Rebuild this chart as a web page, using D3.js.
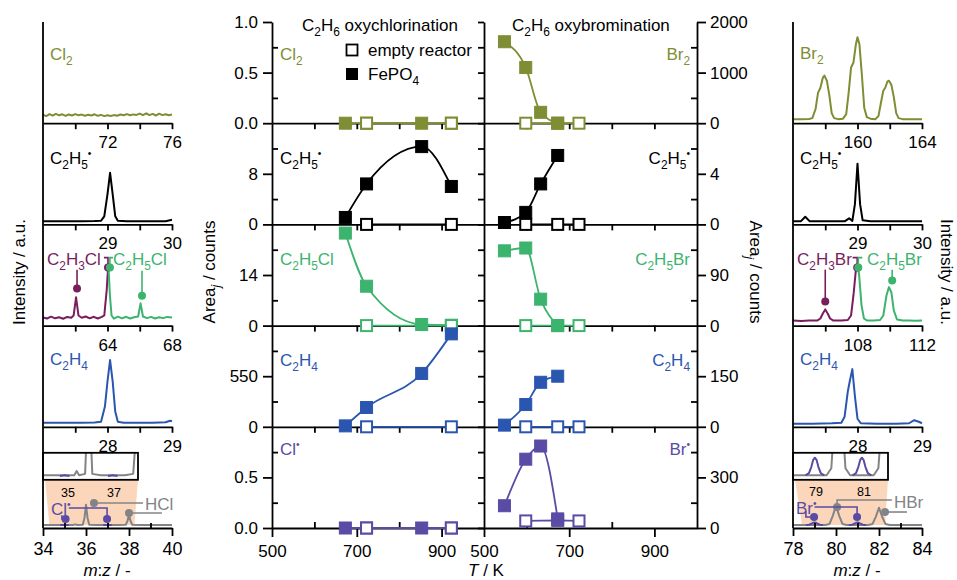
<!DOCTYPE html>
<html>
<head>
<meta charset="utf-8">
<script src="https://cdnjs.cloudflare.com/ajax/libs/d3/7.8.5/d3.min.js"></script>
<style>
  body { margin: 0; background: #fff; }
  svg { display: block; }
</style>
</head>
<body>
<svg id="fig" width="957" height="580"></svg>
<script>
// --- middle: peak areas vs temperature ---
const tClFe = [673, 723, 853, 923];
const tClEmpty = [723, 923];
const tBrFe = [548, 598, 633, 673];
const tBrEmpty = [598, 673, 723];

const clCl2Fe = [0, 0, 0, 0],            clCl2Empty = [0, 0];
const clC2H5Fe = [1.1, 6.4, 12.3, 6.0],  clC2H5Empty = [0, 0];
const clC2H5ClFe = [25.6, 10.9, 0.3, 0.1], clC2H5ClEmpty = [0, 0];
const clC2H4Fe = [10, 210, 580, 1010],   clC2H4Empty = [0, 0];
const clClFe = [0, 0, 0, 0],             clClEmpty = [0, 0];

const brBr2Fe = [1610, 1100, 215, 0],    brBr2Empty = [0, 0, 0];
const brC2H5Fe = [0.15, 0.95, 3.2, 5.45], brC2H5Empty = [0, 0, 0];
const brC2H5BrFe = [133, 138, 47, 0],    brC2H5BrEmpty = [0, 0, 0];
const brC2H4Fe = [5, 66, 132, 150],      brC2H4Empty = [0, 0, 0];
const brBrFe = [132, 408, 486, 54],      brBrEmpty = [42, 45, 42];

const clMax = [1, 16, 28, 1100, 1];
const clMajor = [[0, 0.5, 1], [0, 8], [0, 14], [0, 550], [0, 0.5]];
const clMinor = [[0.25, 0.75], [4, 12], [7, 21], [275, 825], [0.25, 0.75]];
const brMax = [2000, 8, 180, 300, 600];
const brMajor = [[0, 1000, 2000], [0, 4], [0, 90], [0, 150], [0, 300]];
const brMinor = [[500, 1500], [2, 6], [45, 135], [75, 225], [150, 450]];
const tMajor = [500, 700, 900];
const tMinor = [600, 800];
const tInner = [600, 700, 800, 900];

// --- left spectra (m:z, relative intensity) ---
const specCl2 = [[68,.085],[68.2,.07],[68.4,.09],[68.6,.075],[68.8,.092],[69,.078],[69.2,.088],[69.4,.072],[69.6,.086],[69.8,.076],[70,.09],[70.2,.079],[70.4,.085],[70.6,.074],[70.8,.083],[71,.076],[71.2,.088],[71.4,.073],[71.6,.082],[71.8,.07],[72,.078],[72.2,.072],[72.4,.08],[72.6,.074],[72.8,.086],[73,.079],[73.2,.09],[73.4,.078],[73.6,.087],[73.8,.082],[74,.095],[74.2,.079],[74.4,.098],[74.6,.08],[74.8,.092],[75,.076],[75.2,.094],[75.4,.08],[75.6,.088],[75.8,.078],[76,.086]];
const specC2H5L = [[28,.03],[28.2,.03],[28.4,.032],[28.6,.03],[28.8,.033],[28.9,.036],[28.95,.08],[29,.3],[29.04,.51],[29.08,.3],[29.12,.08],[29.16,.035],[29.3,.03],[29.5,.03],[29.7,.031],[29.9,.032],[30,.045]];
const specC2H3Cl = [[60,.08],[60.25,.07],[60.5,.088],[60.75,.072],[61,.082],[61.25,.068],[61.5,.086],[61.75,.078],[61.9,.1],[62.05,.28],[62.2,.1],[62.4,.078],[62.65,.09],[62.9,.072],[63.15,.087],[63.4,.07],[63.65,.086],[63.8,.1],[63.95,.35],[64.05,.61]];
const specC2H5Cl = [[64.05,.61],[64.15,.3],[64.25,.1],[64.4,.068],[64.65,.088],[64.9,.072],[65.15,.087],[65.4,.07],[65.65,.082],[65.9,.09],[66.05,.22],[66.2,.09],[66.45,.074],[66.7,.086],[66.95,.07],[67.2,.082],[67.45,.074],[67.7,.086],[68,.08]];
const specC2H4L = [[27,.04],[27.3,.04],[27.6,.041],[27.8,.042],[27.9,.05],[27.96,.2],[28,.45],[28.04,.66],[28.08,.45],[28.12,.15],[28.16,.05],[28.25,.04],[28.5,.04],[28.7,.041],[28.9,.045],[28.97,.06],[29,.055]];
const specHCl = [[34,.03],[34.5,.03],[35,.03],[35.4,.03],[35.5,.036],[35.6,.03],[35.85,.032],[35.93,.1],[36,.23],[36.07,.1],[36.15,.032],[36.5,.03],[37,.03],[37.5,.03],[37.85,.032],[37.93,.07],[38,.13],[38.07,.07],[38.15,.032],[38.5,.03],[39,.03],[39.5,.03],[40,.03]];
const specClRad = [[[34.8,.029],[35,.03],[35.2,.029]], [[36.8,.029],[37,.03],[37.2,.029]]];

// --- right spectra ---
const specBr2 = [[156,.04],[156.5,.04],[157,.042],[157.2,.05],[157.4,.14],[157.55,.3],[157.7,.35],[157.85,.45],[157.95,.47],[158.1,.42],[158.25,.28],[158.4,.1],[158.55,.05],[158.8,.04],[159.1,.045],[159.3,.09],[159.45,.3],[159.6,.55],[159.75,.6],[159.9,.78],[160,.85],[160.12,.78],[160.27,.48],[160.42,.15],[160.58,.06],[160.8,.045],[161.1,.04],[161.3,.07],[161.45,.2],[161.6,.32],[161.72,.35],[161.85,.41],[161.95,.42],[162.1,.38],[162.25,.26],[162.4,.1],[162.55,.05],[162.8,.04],[163.2,.04],[163.6,.038],[164,.04]];
const specC2H5R = [[28,.03],[28.12,.03],[28.19,.075],[28.26,.03],[28.5,.03],[28.8,.03],[28.87,.06],[28.92,.035],[28.96,.2],[29,.6],[29.04,.2],[29.08,.04],[29.2,.03],[29.5,.03],[30,.03]];
const specC2H3Br = [[104,.05],[104.5,.045],[105,.05],[105.5,.05],[105.7,.07],[105.85,.12],[106,.16],[106.15,.12],[106.3,.07],[106.5,.05],[107,.05],[107.4,.055],[107.6,.1],[107.75,.3],[107.9,.55],[108,.61]];
const specC2H5Br = [[108,.61],[108.1,.5],[108.25,.2],[108.4,.07],[108.6,.05],[109,.05],[109.4,.055],[109.6,.1],[109.8,.3],[109.95,.38],[110.1,.33],[110.25,.15],[110.45,.06],[110.8,.05],[111.2,.05],[111.6,.048],[112,.05]];
const specC2H4R = [[27,.03],[27.3,.03],[27.6,.035],[27.75,.04],[27.8,.1],[27.85,.35],[27.88,.45],[27.92,.57],[27.96,.3],[28,.08],[28.05,.035],[28.3,.03],[28.6,.03],[28.8,.035],[28.88,.065],[28.95,.05],[29,.035]];
const specHBr = [[78,.03],[78.5,.03],[79,.03],[79.5,.03],[79.7,.04],[79.85,.12],[80,.22],[80.15,.12],[80.3,.04],[80.5,.03],[81,.03],[81.5,.03],[81.7,.04],[81.85,.11],[82,.2],[82.15,.11],[82.3,.04],[82.5,.03],[83,.03],[83.5,.03],[84,.03]];
const specBrRad = [[[78.6,.03],[78.75,.033],[78.85,.042],[78.93,.052],[79,.055],[79.07,.052],[79.15,.042],[79.25,.033],[79.4,.03]],
                   [[80.6,.03],[80.75,.033],[80.85,.042],[80.93,.052],[81,.055],[81.07,.052],[81.15,.042],[81.25,.033],[81.4,.03]]];

// spectra axes
const specTicksL = [[70,72,74,76],[28.5,29,29.5,30],[62,64,66,68],[27.5,28,28.5,29],[34,35,36,37,38,39,40]];
const specLabL = [[72,76],[29,30],[64,68],[28,29],[34,36,38,40]];
const specDomL = [[68,76],[28,30],[60,68],[27,29],[34,40]];
const specTicksR = [[158,160,162,164],[28.5,29,29.5,30],[106,108,110,112],[27.5,28,28.5,29],[78,79,80,81,82,83,84]];
const specLabR = [[160,164],[29,30],[108,112],[28,29],[78,80,82,84]];
const specDomR = [[156,164],[28,30],[104,112],[27,29],[78,84]];
const insetDomL = [34.1, 38.05], zoomDomL = [34.3, 38.25];
const insetDomR = [78.07, 82.11], zoomDomR = [78.42, 82.28];
const insetInt = [0.025, 0.062];

// annotation pins (m:z, intensity); dot sits on the first point unless end is set
const pinsL3 = [
  {c: "maroon", p: [[62.11,.366],[62.11,.553]]},
  {c: "maroon", p: [[64.03,.573],[64.03,.672],[63.78,.672]]},
  {c: "green",  p: [[64.15,.573],[64.15,.672],[64.34,.672]]},
  {c: "green",  p: [[66.14,.296],[66.14,.543]]}];
const pinsL5 = [
  {c: "grey",   p: [[36.37,.247],[38.65,.247]]},
  {c: "grey",   p: [[38.0,.148],[39.53,.148]]},
  {c: "purple", p: [[34.88,.125],[34.88,.09],[35.05,.09]], end: true},
  {c: "purple", p: [[35.2,.198],[36.98,.198],[36.98,.09]], end: true}];
const pinsR3 = [
  {c: "maroon", p: [[106.0,.237],[106.0,.553]]},
  {c: "maroon", p: [[107.98,.573],[107.98,.672],[107.7,.672]]},
  {c: "green",  p: [[108.05,.573],[108.05,.672],[108.3,.672]]},
  {c: "green",  p: [[110.15,.445],[110.15,.553]]}];
const pinsR5 = [
  {c: "grey",   p: [[80.05,.207],[80.05,.277],[82.6,.277]]},
  {c: "grey",   p: [[82.28,.158],[83.3,.158]]},
  {c: "purple", p: [[78.6,.165],[78.6,.109],[78.98,.109]], end: true},
  {c: "purple", p: [[79.0,.207],[80.98,.207],[80.98,.109]], end: true}];

const COL = {olive: "#7f8d34", black: "#000", green: "#3cb46e", blue: "#2a56b0",
             purple: "#5a4ba5", maroon: "#781e5e", grey: "#848486", peach: "#fbd6ba"};
const FONT = '"Liberation Sans", Arial, sans-serif';

const svg = d3.select("#fig").attr("font-family", FONT);
const rowY = d3.scaleLinear().domain([0, 5]).range([22, 528]);
const AX = 1.8;

// text with _{sub} ^{sup} ~{italic} `{italic sub}
function rich(parent, str, x, y, size, color, anchor, rot) {
    const t = parent.append("text").attr("font-size", size).attr("fill", color || "#000")
        .attr("text-anchor", anchor || "start");
    if (rot) t.attr("transform", `translate(${x},${y}) rotate(${rot})`);
    else t.attr("x", x).attr("y", y);
    let cur = 0;
    for (const m of str.matchAll(/([_^~`])\{([^}]*)\}|([^_^~`]+)/g)) {
        let want = 0, fs = size, it = false, txt = m[3];
        if (m[3] === undefined) {
            txt = m[2];
            if (m[1] === "_" || m[1] === "`") { want = size * 0.3; fs = size * 0.7; }
            if (m[1] === "^") { want = -size * 0.4; fs = size * 0.6; }
            if (m[1] === "~" || m[1] === "`") it = true;
        }
        const sp = t.append("tspan").attr("dy", want - cur).attr("font-size", fs).text(txt);
        if (it) sp.attr("font-style", "italic");
        cur = want;
    }
    return t;
}

function styleAxis(g, size) {
    g.attr("font-family", FONT).attr("font-size", size || 17).attr("stroke-width", AX);
    g.selectAll("text").attr("fill", "#000");
}

// --- 1. MIDDLE: AREA vs T ---
const xL = d3.scaleLinear().domain([500, 1000]).range([272, 484]);
const xR = d3.scaleLinear().domain([500, 1000]).range([484, 697]);

const clRows = [
    {name: "Cl_{2}", c: "olive", fe: clCl2Fe, em: clCl2Empty},
    {name: "C_{2}H_{5}^{•}", c: "black", fe: clC2H5Fe, em: clC2H5Empty},
    {name: "C_{2}H_{5}Cl", c: "green", fe: clC2H5ClFe, em: clC2H5ClEmpty},
    {name: "C_{2}H_{4}", c: "blue", fe: clC2H4Fe, em: clC2H4Empty},
    {name: "Cl^{•}", c: "purple", fe: clClFe, em: clClEmpty}];
const brRows = [
    {name: "Br_{2}", c: "olive", fe: brBr2Fe, em: brBr2Empty},
    {name: "C_{2}H_{5}^{•}", c: "black", fe: brC2H5Fe, em: brC2H5Empty},
    {name: "C_{2}H_{5}Br", c: "green", fe: brC2H5BrFe, em: brC2H5BrEmpty},
    {name: "C_{2}H_{4}", c: "blue", fe: brC2H4Fe, em: brC2H4Empty},
    {name: "Br^{•}", c: "purple", fe: brBrFe, em: brBrEmpty}];
const labelBase = [60, 164, 265, 366, 455];

const axes = svg.append("g");
const marks = svg.append("g");

clRows.forEach((r, i) => {
    const y = d3.scaleLinear().domain([0, clMax[i]]).range([rowY(i + 1), rowY(i)]);
    const fmt = (i === 0 || i === 4) ? d3.format(".1f") : d3.format("d");
    styleAxis(axes.append("g").attr("transform", "translate(272,0)")
        .call(d3.axisLeft(y).tickValues(clMajor[i]).tickSize(9).tickPadding(5).tickSizeOuter(0).tickFormat(fmt)));
    const mi = axes.append("g").attr("transform", "translate(272,0)")
        .call(d3.axisRight(y).tickValues(clMinor[i]).tickSize(6).tickFormat(""));
    mi.select(".domain").remove(); styleAxis(mi);
    // divider ticks pointing into left panel
    styleAxis(axes.append("g").attr("transform", "translate(484,0)")
        .call(d3.axisLeft(y).tickValues(clMajor[i].concat(clMinor[i])).tickSize(6).tickSizeOuter(0).tickFormat("")));
    rich(marks, r.name, 280, labelBase[i], 17, COL[r.c]);
});

brRows.forEach((r, i) => {
    const y = d3.scaleLinear().domain([0, brMax[i]]).range([rowY(i + 1), rowY(i)]);
    styleAxis(axes.append("g").attr("transform", "translate(697,0)")
        .call(d3.axisRight(y).tickValues(brMajor[i]).tickSize(9).tickPadding(4).tickSizeOuter(0).tickFormat(d3.format("d"))));
    const mi = axes.append("g").attr("transform", "translate(697,0)")
        .call(d3.axisLeft(y).tickValues(brMinor[i]).tickSize(6).tickFormat(""));
    mi.select(".domain").remove(); styleAxis(mi);
    rich(marks, r.name, 690, labelBase[i], 17, COL[r.c], "end");
});

// row boundaries (x axes)
[xL, xR].forEach(x => {
    for (let k = 1; k < 5; k++) {
        styleAxis(axes.append("g").attr("transform", `translate(0,${rowY(k)})`)
            .call(d3.axisBottom(x).tickValues(tInner).tickSize(6).tickSizeOuter(0).tickFormat("")));
    }
    styleAxis(axes.append("g").attr("transform", `translate(0,${rowY(5)})`)
        .call(d3.axisBottom(x).tickValues(tMajor).tickSize(9).tickPadding(8).tickSizeOuter(0).tickFormat(d3.format("d"))));
    const mi = axes.append("g").attr("transform", `translate(0,${rowY(5)})`)
        .call(d3.axisTop(x).tickValues(tMinor).tickSize(6).tickFormat(""));
    mi.select(".domain").remove(); styleAxis(mi);
});

function drawSeries(x, rows, max, tFe, tEm, feOnTop) {
    rows.forEach((r, i) => {
        const y = d3.scaleLinear().domain([0, max[i]]).range([rowY(i + 1), rowY(i)]);
        const col = COL[r.c];
        const fe = tFe.map((t, k) => [t, r.fe[k]]);
        const em = tEm.map((t, k) => [t, r.em[k]]);
        const curve = d3.line().x(d => x(d[0])).y(d => y(d[1])).curve(d3.curveMonotoneX);
        const straight = d3.line().x(d => x(d[0])).y(d => y(d[1]));
        const g = marks.append("g");
        const drawFe = () => {
            g.append("path").datum(fe).attr("d", curve).attr("fill", "none").attr("stroke", col).attr("stroke-width", 1.8);
            g.append("g").selectAll("rect").data(fe).join("rect")
                .attr("x", d => x(d[0]) - 6).attr("y", d => y(d[1]) - 6)
                .attr("width", 12).attr("height", 12).attr("fill", col).attr("stroke", col).attr("stroke-width", 1);
        };
        const drawEm = () => {
            g.append("path").datum(em).attr("d", straight).attr("fill", "none").attr("stroke", col).attr("stroke-width", 1.8);
            g.append("g").selectAll("rect").data(em).join("rect")
                .attr("x", d => x(d[0]) - 5.5).attr("y", d => y(d[1]) - 5.5)
                .attr("width", 11).attr("height", 11).attr("fill", "#fff").attr("stroke", col).attr("stroke-width", 2);
        };
        if (feOnTop) { drawEm(); drawFe(); } else { drawFe(); drawEm(); }
    });
}
drawSeries(xL, clRows, clMax, tClFe, tClEmpty, false);
drawSeries(xR, brRows, brMax, tBrFe, tBrEmpty, true);

// titles / legend
rich(svg, "C_{2}H_{6} oxychlorination", 302, 31, 17);
rich(svg, "C_{2}H_{6} oxybromination", 512, 31, 17);
svg.append("rect").attr("x", 346.5).attr("y", 44.5).attr("width", 11).attr("height", 11)
    .attr("fill", "#fff").attr("stroke", "#000").attr("stroke-width", 1.8);
svg.append("rect").attr("x", 346).attr("y", 68).attr("width", 12).attr("height", 12).attr("fill", "#000");
rich(svg, "empty reactor", 368, 56, 17);
rich(svg, "FePO_{4}", 368, 80, 17);
rich(svg, "Area`{j} / counts", 215, 272, 17, "#000", "middle", -90);
rich(svg, "Area`{j} / counts", 750, 272, 17, "#000", "middle", 90);
rich(svg, "~{T} / K", 486, 576, 17, "#000", "middle");

// --- 2. SPECTRA ---
function drawSpectra(x0, x1, dom, ticks, labs, panels, inset) {
    const g = svg.append("g");
    panels.forEach((p, i) => {
        const xs = d3.scaleLinear().domain(dom[i]).range([x0, x1]);
        const base = rowY(i + 1);
        const ys = d3.scaleLinear().domain([0, 1]).range([base, base - 101.2]);
        const line = d3.line().x(d => xs(d[0])).y(d => ys(d[1]));

        if (i === 4) {
            // shaded zoom region + inset
            const iTop = rowY(4) + 26, iBot = rowY(4) + 53;
            const xi = d3.scaleLinear().domain(inset.dom).range([x0, x0 + 95]);
            const yi = d3.scaleLinear().domain(insetInt).range([iBot - 1, iTop]);
            const zy = ys(0.03);
            g.append("path").attr("fill", COL.peach)
                .attr("d", `M${x0 + 2},${iBot}L${x0 + 95},${iBot}L${xs(inset.zoom[1])},${zy}L${xs(inset.zoom[0])},${zy}Z`);
            const cid = "clip" + x0;
            g.append("clipPath").attr("id", cid).append("rect")
                .attr("x", x0).attr("y", iTop).attr("width", 95).attr("height", iBot - iTop);
            const il = d3.line().x(d => xi(d[0])).y(d => yi(d[1]));
            const ig = g.append("g").attr("clip-path", `url(#${cid})`);
            p.traces.forEach(t => (t.multi ? t.d : [t.d]).forEach(seg =>
                ig.append("path").datum(seg).attr("d", il).attr("fill", "none")
                  .attr("stroke", COL[t.c]).attr("stroke-width", 2).attr("stroke-linejoin", "round")));
            g.append("rect").attr("x", x0).attr("y", iTop).attr("width", 95).attr("height", iBot - iTop)
                .attr("fill", "none").attr("stroke", "#000").attr("stroke-width", AX);
        }

        p.traces.forEach(t => (t.multi ? t.d : [t.d]).forEach(seg =>
            g.append("path").datum(seg).attr("d", line).attr("fill", "none")
              .attr("stroke", COL[t.c]).attr("stroke-width", 2).attr("stroke-linejoin", "round")));

        (p.pins || []).forEach(pin => {
            const dot = pin.end ? pin.p[pin.p.length - 1] : pin.p[0];
            g.append("path").datum(pin.p).attr("d", line).attr("fill", "none")
                .attr("stroke", COL[pin.c]).attr("stroke-width", 1.6);
            g.append("circle").attr("cx", xs(dot[0])).attr("cy", ys(dot[1])).attr("r", 4)
                .attr("fill", COL[pin.c]);
        });

        if (i < 4) {
            styleAxis(g.append("g").attr("transform", `translate(0,${base})`)
                .call(d3.axisBottom(xs).tickValues(ticks[i]).tickSize(6).tickPadding(7).tickSizeOuter(0)
                    .tickFormat(d => labs[i].includes(d) ? d : "")));
        } else {
            styleAxis(g.append("g").attr("transform", `translate(0,${base})`)
                .call(d3.axisBottom(xs).tickValues(labs[i]).tickSize(8).tickPadding(6).tickSizeOuter(0)
                    .tickFormat(d3.format("d"))), 18);
            const mi = g.append("g").attr("transform", `translate(0,${base})`)
                .call(d3.axisTop(xs).tickValues(ticks[i].filter(d => !labs[i].includes(d))).tickSize(5).tickFormat(""));
            mi.select(".domain").remove(); styleAxis(mi);
        }
        (p.texts || []).forEach(t => rich(g, t.s, t.x, t.y, t.size || 17, COL[t.c], t.a));
    });
    g.append("line").attr("x1", x0).attr("x2", x0).attr("y1", rowY(0)).attr("y2", rowY(5))
        .attr("stroke", "#000").attr("stroke-width", AX);
}

const leftPanels = [
    {traces: [{d: specCl2, c: "olive"}], texts: [{s: "Cl_{2}", x: 50, y: 60, c: "olive"}]},
    {traces: [{d: specC2H5L, c: "black"}], texts: [{s: "C_{2}H_{5}^{•}", x: 50, y: 164, c: "black"}]},
    {traces: [{d: specC2H3Cl, c: "maroon"}, {d: specC2H5Cl, c: "green"}], pins: pinsL3,
     texts: [{s: "C_{2}H_{3}Cl", x: 47, y: 265, c: "maroon"}, {s: "C_{2}H_{5}Cl", x: 113, y: 265, c: "green"}]},
    {traces: [{d: specC2H4L, c: "blue"}], texts: [{s: "C_{2}H_{4}", x: 50, y: 365, c: "blue"}]},
    {traces: [{d: specHCl, c: "grey"}, {d: specClRad, c: "purple", multi: true}], pins: pinsL5,
     texts: [{s: "Cl^{•}", x: 51, y: 515, c: "purple"}, {s: "HCl", x: 145, y: 510, c: "grey"},
             {s: "35", x: 68, y: 497, c: "black", a: "middle", size: 12.5},
             {s: "37", x: 114, y: 497, c: "black", a: "middle", size: 12.5}]}];

const rightPanels = [
    {traces: [{d: specBr2, c: "olive"}], texts: [{s: "Br_{2}", x: 800, y: 59, c: "olive"}]},
    {traces: [{d: specC2H5R, c: "black"}], texts: [{s: "C_{2}H_{5}^{•}", x: 800, y: 164, c: "black"}]},
    {traces: [{d: specC2H3Br, c: "maroon"}, {d: specC2H5Br, c: "green"}], pins: pinsR3,
     texts: [{s: "C_{2}H_{3}Br", x: 797, y: 265, c: "maroon"}, {s: "C_{2}H_{5}Br", x: 867, y: 265, c: "green"}]},
    {traces: [{d: specC2H4R, c: "blue"}], texts: [{s: "C_{2}H_{4}", x: 800, y: 365, c: "blue"}]},
    {traces: [{d: specHBr, c: "grey"}, {d: specBrRad, c: "purple", multi: true}], pins: pinsR5,
     texts: [{s: "Br^{•}", x: 796, y: 514, c: "purple"}, {s: "HBr", x: 894, y: 508, c: "grey"},
             {s: "79", x: 816, y: 496, c: "black", a: "middle", size: 12.5},
             {s: "81", x: 864, y: 496, c: "black", a: "middle", size: 12.5}]}];

drawSpectra(43, 172, specDomL, specTicksL, specLabL, leftPanels, {dom: insetDomL, zoom: zoomDomL});
drawSpectra(793, 922, specDomR, specTicksR, specLabR, rightPanels, {dom: insetDomR, zoom: zoomDomR});

rich(svg, "Intensity / a.u.", 25, 272, 17, "#000", "middle", -90);
rich(svg, "Intensity / a.u.", 941, 272, 17, "#000", "middle", 90);
rich(svg, "~{m}:~{z} / -", 107, 576, 17, "#000", "middle");
rich(svg, "~{m}:~{z} / -", 857, 576, 17, "#000", "middle");
</script>
</body>
</html>
